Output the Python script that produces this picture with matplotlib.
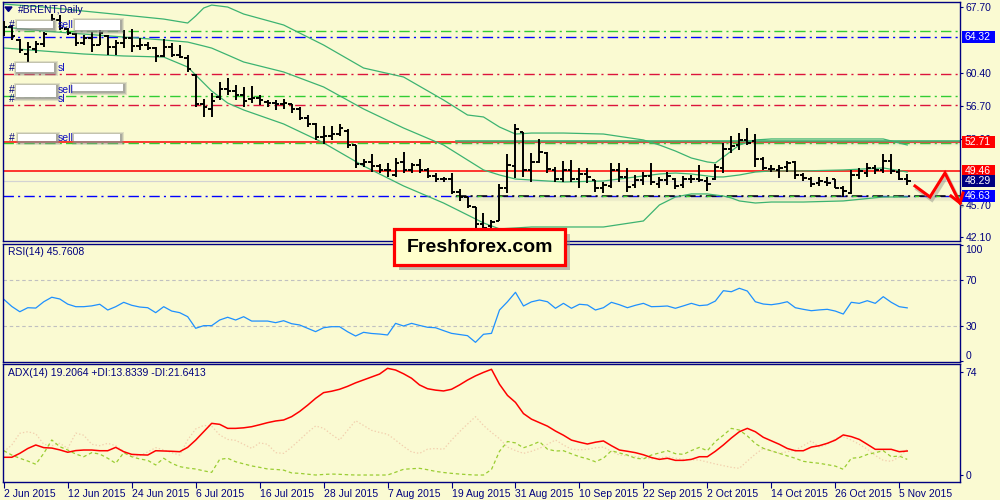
import numpy as np
import matplotlib
matplotlib.use("Agg")
import matplotlib.pyplot as plt
from matplotlib.patches import Rectangle, Polygon
from matplotlib.transforms import blended_transform_factory

plt.rcParams['font.family'] = ['Liberation Sans', 'DejaVu Sans']
plt.rcParams['lines.scale_dashes'] = False

BG = '#FAFAD2'
NAVY = '#000080'
FS = 7.5

# ---- daily OHLC, #BRENT 2 Jun - 6 Nov 2015 ----
opens = [64.9, 65.5, 64.0, 62.5, 63.0, 63.6, 65.6, 66.3, 65.3, 64.7,
         63.7, 64.3, 63.5, 64.5, 63.3, 63.7, 64.3, 63.4, 63.5, 63.1,
         62.2, 63.3, 62.4, 62.0, 60.1, 56.9, 56.4, 57.7, 58.6, 58.3,
         57.9, 57.5, 57.6, 57.1, 57.0, 56.9, 56.9, 56.3, 55.4, 54.7,
         53.2, 53.3, 53.6, 53.9, 52.3, 50.2, 50.4, 50.0, 49.6, 49.0,
         50.4, 49.6, 50.1, 49.5, 48.9, 48.5, 48.5, 47.1, 46.6, 45.4,
         43.5, 43.3, 43.9, 47.6, 50.0, 53.8, 49.5, 50.5, 51.5, 49.6,
         48.6, 49.5, 48.6, 49.1, 48.4, 47.6, 47.8, 49.6, 48.8, 47.9,
         48.4, 48.9, 48.0, 48.4, 48.5, 47.9, 48.6, 48.5, 48.3, 48.6,
         49.8, 51.9, 52.3, 52.9, 52.8, 50.8, 49.7, 49.6, 49.9, 50.5,
         49.0, 48.5, 48.1, 48.2, 48.5, 47.5, 47.0, 49.0, 49.2, 49.8,
         49.6, 50.6, 49.3, 48.6]
highs = [66.2, 65.7, 64.1, 63.8, 63.9, 64.9, 66.9, 66.8, 65.4, 64.8,
         64.6, 64.9, 65.1, 64.6, 64.0, 65.1, 65.3, 64.2, 63.8, 63.2,
         64.1, 63.7, 63.5, 62.4, 60.2, 57.5, 58.1, 59.4, 59.8, 59.0,
         58.8, 58.9, 57.9, 57.4, 57.4, 57.5, 56.9, 56.6, 55.7, 54.8,
         54.5, 54.5, 54.7, 54.1, 52.3, 50.8, 51.3, 50.2, 50.3, 50.9,
         51.6, 50.3, 50.8, 49.8, 49.2, 48.8, 49.2, 47.4, 46.6, 45.4,
         44.8, 44.0, 48.0, 51.3, 54.7, 53.8, 51.4, 53.0, 51.6, 49.9,
         50.6, 50.7, 49.8, 49.8, 48.4, 48.2, 50.3, 50.3, 49.8, 49.0,
         49.3, 50.3, 48.8, 49.3, 48.7, 48.9, 49.0, 50.1, 48.8, 50.2,
         52.6, 53.3, 53.7, 54.2, 53.6, 51.0, 50.1, 50.1, 50.6, 50.6,
         49.2, 48.8, 48.8, 48.8, 48.5, 47.8, 49.6, 49.8, 50.3, 50.1,
         51.3, 51.3, 49.7, 49.1]
lows = [64.5, 64.0, 62.6, 61.6, 62.6, 63.2, 65.5, 65.1, 64.6, 63.4,
        63.5, 62.7, 63.5, 62.4, 62.4, 63.1, 62.7, 62.9, 62.9, 61.6,
        62.1, 62.1, 62.0, 60.5, 56.6, 55.5, 55.5, 57.4, 57.9, 57.4,
        56.6, 57.0, 56.8, 56.6, 56.2, 56.4, 55.9, 55.1, 54.3, 52.9,
        52.5, 52.9, 53.3, 52.0, 49.8, 49.9, 49.3, 49.2, 48.8, 48.8,
        49.2, 49.2, 49.2, 48.7, 48.2, 48.2, 46.9, 46.1, 45.3, 42.9,
        42.3, 42.5, 43.9, 47.0, 48.7, 48.8, 48.2, 50.3, 49.2, 48.2,
        48.2, 48.2, 47.5, 48.1, 47.1, 47.0, 47.5, 48.2, 47.1, 47.5,
        47.9, 47.9, 47.5, 47.9, 47.4, 47.5, 48.1, 48.2, 47.2, 48.4,
        49.2, 51.4, 51.8, 52.3, 49.9, 49.5, 49.3, 48.7, 49.3, 48.6,
        48.3, 47.7, 47.8, 47.8, 47.5, 46.5, 46.9, 48.6, 48.8, 49.1,
        49.2, 49.1, 48.4, 47.9]
closes = [65.5, 64.5, 62.9, 63.2, 63.6, 64.7, 66.4, 65.4, 64.8, 63.7,
          64.3, 63.5, 64.8, 63.3, 63.7, 64.3, 63.4, 63.5, 63.1, 62.2,
          63.3, 62.4, 62.1, 60.8, 56.9, 56.6, 57.2, 58.6, 58.3, 57.9,
          57.2, 57.6, 57.3, 57.0, 56.9, 57.0, 56.3, 55.4, 54.7, 53.2,
          53.3, 53.6, 54.2, 52.3, 50.2, 50.4, 50.0, 49.6, 49.5, 50.3,
          49.6, 50.1, 49.5, 48.9, 48.5, 48.5, 47.1, 46.6, 45.5, 43.5,
          43.1, 43.8, 47.6, 50.1, 54.1, 49.6, 50.5, 51.6, 49.7, 48.6,
          49.5, 48.6, 49.1, 48.8, 47.6, 47.9, 49.6, 48.8, 47.7, 48.4,
          48.9, 48.2, 48.4, 48.9, 47.8, 48.6, 48.5, 48.4, 48.0, 49.9,
          51.9, 52.2, 52.9, 52.6, 50.8, 49.8, 49.7, 49.8, 50.3, 49.0,
          48.7, 48.0, 48.3, 48.1, 47.6, 47.2, 49.0, 49.4, 49.8, 49.6,
          50.6, 49.4, 48.6, 48.3]

# Bollinger bands, sampled at these bars
bb_idx = [0, 5, 10, 15, 20, 23, 24, 25, 26, 28, 30, 35, 40, 45, 50, 55, 58,
          60, 62, 64, 66, 70, 75, 80, 82, 84, 86, 88, 89, 90, 91, 92, 94, 96,
          100, 105, 110, 113]
bb_upper = [68.03, 67.70, 67.25, 66.81, 66.36, 65.92, 66.70, 67.59, 67.92,
            67.70, 66.92, 65.70, 63.47, 60.91, 59.91, 57.35, 55.68, 55.46,
            54.34, 53.56, 53.67, 53.67, 53.56, 52.90, 52.34, 51.67, 50.89,
            50.45, 50.34, 51.00, 51.67, 52.34, 52.90, 53.01, 53.01, 53.01,
            53.01, 52.34]
bb_mid = [65.47, 65.03, 64.69, 64.36, 64.03, 63.80, 63.58, 63.36, 63.13,
          62.36, 61.58, 60.47, 58.80, 56.35, 54.23, 52.34, 50.67, 49.56,
          49.00, 48.55, 48.44, 48.22, 48.33, 48.89, 49.11, 49.22, 49.11,
          48.89, 48.78, 48.78, 48.89, 49.00, 49.33, 49.45, 49.45, 49.56,
          49.78, 49.33]
bb_lower = [63.14, 62.80, 62.47, 62.25, 62.13, 61.02, 60.13, 59.24, 58.35,
            57.01, 56.24, 54.68, 52.57, 50.00, 47.78, 45.88, 44.55, 43.66,
            43.00, 43.10, 43.21, 43.21, 43.21, 43.88, 45.66, 46.55, 46.89,
            46.89, 46.77, 46.66, 46.44, 46.11, 45.88, 45.99, 45.99, 46.11,
            46.55, 46.55]

rsi = [53.2, 47.0, 42.4, 45.9, 45.6, 51.1, 55.0, 53.5, 49.0, 46.8,
       46.8, 47.5, 48.9, 43.9, 46.8, 50.6, 48.0, 46.5, 45.9, 41.6,
       46.8, 43.0, 41.6, 38.1, 28.0, 30.3, 30.3, 35.2, 37.6, 35.2,
       38.1, 34.3, 34.3, 34.3, 32.9, 34.6, 32.0, 30.9, 28.0, 25.1,
       28.5, 29.4, 29.4, 25.0, 21.3, 24.5, 23.5, 23.0, 22.2, 32.3,
       30.0, 32.3, 30.5, 28.9, 28.5, 26.0, 23.6, 22.6, 21.6, 15.8,
       22.8, 23.6, 43.9, 51.1, 59.3, 47.4, 51.0, 52.6, 51.1, 45.4,
       49.7, 45.4, 48.9, 48.3, 43.9, 45.9, 50.6, 48.5, 45.9, 48.0,
       49.7, 46.8, 47.0, 47.4, 45.4, 47.5, 49.7, 47.7, 48.3, 51.7,
       60.7, 59.8, 62.8, 60.4, 51.1, 49.1, 48.5, 49.5, 51.1, 45.9,
       44.5, 43.3, 44.0, 44.5, 43.0, 40.4, 50.6, 49.7, 52.0, 49.7,
       55.5, 50.6, 46.8, 45.76]

adx = [12.7, 12.7, 15.5, 19.0, 21.5, 19.6, 19.3, 18.0, 16.3, 17.5,
       17.9, 17.9, 17.4, 17.4, 19.8, 16.7, 14.8, 14.5, 14.3, 17.4,
       17.2, 17.0, 16.7, 19.8, 25.0, 31.0, 37.0, 36.3, 33.4, 33.4,
       33.8, 34.6, 36.0, 37.5, 38.7, 39.4, 41.8, 45.5, 50.0, 54.9,
       59.0, 60.0, 61.4, 63.5, 66.0, 68.1, 70.2, 72.3, 76.4, 75.2,
       72.5, 69.3, 64.5, 61.8, 60.8, 60.2, 61.4, 64.5, 68.0, 71.0,
       73.5, 75.7, 65.0, 57.0, 52.0, 44.0, 40.0, 37.5, 35.0, 31.5,
       28.5, 25.0, 23.5, 22.2, 23.5, 24.4, 21.0, 17.9, 17.0, 16.0,
       14.5, 12.5, 11.2, 12.0, 10.5, 10.5, 11.2, 13.1, 13.1, 17.0,
       21.5, 26.5, 31.0, 33.4, 31.0, 27.0, 24.5, 22.0, 19.0, 17.4,
       17.4, 20.0, 21.0, 22.7, 25.0, 28.7, 27.5, 25.5, 22.0, 18.4,
       18.4, 18.4, 16.7, 17.2]
plus_di = [17.4, 14.3, 12.0, 10.0, 7.7, 15.5, 25.1, 20.3, 17.9, 15.0,
           13.1, 16.0, 15.0, 12.0, 8.4, 16.0, 13.1, 11.5, 10.5, 7.2,
           12.0, 8.4, 6.0, 5.0, 4.3, 3.0, 1.9, 11.2, 12.0, 9.5,
           8.0, 6.5, 5.5, 4.3, 4.0, 3.5, 1.5, 1.2, 0.6, 0.0,
           0.4, 0.7, 0.5, 0.2, 0.0, 0.0, 0.0, 0.0, 0.0, 2.0,
           4.1, 4.5, 4.8, 3.8, 2.6, 1.8, 1.2, 0.7, 0.3, 0.0,
           0.0, 4.0, 17.0, 24.0, 23.0, 19.5, 21.5, 23.9, 18.5, 17.2,
           17.4, 15.2, 13.1, 11.6, 9.5, 12.0, 17.4, 15.8, 14.3, 12.0,
           11.5, 14.3, 15.8, 17.4, 15.3, 14.8, 17.5, 19.8, 17.4, 24.0,
           28.5, 33.4, 32.2, 28.0, 22.5, 19.1, 17.3, 15.5, 13.7, 12.0,
           9.8, 9.0, 8.4, 7.4, 6.4, 4.1, 12.0, 12.5, 14.7, 16.0,
           17.4, 13.1, 13.6, 11.2]
minus_di = [16.7, 21.5, 29.9, 31.0, 29.5, 22.0, 21.0, 22.7, 19.1, 30.0,
            28.5, 22.0, 21.0, 22.7, 21.0, 17.0, 13.1, 14.0, 16.5, 19.6,
            18.0, 16.0, 14.3, 25.1, 33.0, 35.5, 35.0, 28.7, 25.5, 24.8,
            22.0, 19.1, 23.0, 22.0, 16.0, 15.5, 20.0, 25.1, 30.5, 35.1,
            33.5, 29.0, 25.1, 32.0, 38.9, 35.5, 32.0, 30.5, 29.2, 25.0,
            20.5, 16.5, 15.5, 18.5, 19.0, 18.4, 25.0, 31.0, 36.5, 41.8,
            35.5, 30.5, 26.0, 20.0, 17.5, 15.5, 17.0, 19.1, 22.0, 25.1,
            21.5, 18.5, 18.0, 18.4, 19.5, 20.0, 17.0, 14.3, 13.8, 13.1,
            12.3, 11.5, 12.3, 13.1, 12.0, 11.2, 11.0, 10.7, 9.3, 7.9,
            6.7, 5.5, 4.8, 10.0, 15.0, 19.1, 17.3, 15.5, 16.7, 17.9,
            21.0, 24.4, 20.0, 22.0, 26.0, 27.4, 25.1, 22.0, 18.5, 14.0,
            10.5, 9.8, 12.9, 18.4]

date_idx = [0, 8, 16, 24, 32, 40, 48, 56, 64, 72, 80, 88, 96, 104, 112]
date_labels = ["2 Jun 2015", "12 Jun 2015", "24 Jun 2015", "6 Jul 2015",
               "16 Jul 2015", "28 Jul 2015", "7 Aug 2015", "19 Aug 2015",
               "31 Aug 2015", "10 Sep 2015", "22 Sep 2015", "2 Oct 2015",
               "14 Oct 2015", "26 Oct 2015", "5 Nov 2015"]

price_ticks = [67.70, 60.40, 56.70, 53.00, 45.70, 42.10]
# horizontal order / level lines: price, colour, solid?
level_prices = [65.03, 64.32, 60.24, 57.76, 56.76, 52.71, 52.55, 49.46, 48.29, 46.63]
level_colors = ['#32CD32', '#0000FF', '#DC143C', '#32CD32', '#DC143C',
                '#FF0000', '#32CD32', '#FF0000', '#D3D3D3', '#0000FF']
level_solid = [False, False, False, False, False, True, False, True, True, False]
# price boxes on the right scale
box_prices = [64.32, 52.71, 49.46, 48.29, 46.63]
box_colors = ['#0000FF', '#FF0000', '#FF0000', '#000080', '#0000FF']

DASHDOT = (7.5, 3, 1.5, 3)
XMAX = 119.6

fig = plt.figure(figsize=(10, 5), dpi=100, facecolor=BG)
ax_p = fig.add_axes([0.003, 0.518, 0.957, 0.478])
ax_r = fig.add_axes([0.003, 0.276, 0.957, 0.236])
ax_a = fig.add_axes([0.003, 0.036, 0.957, 0.236])


def style(ax):
    ax.set_facecolor(BG)
    for s in ax.spines.values():
        s.set_color(NAVY)
        s.set_linewidth(1.0)
    ax.yaxis.tick_right()
    ax.tick_params(axis='y', colors=NAVY, labelsize=FS, length=2.5,
                   width=0.8, pad=1.5, labelcolor=NAVY)
    ax.set_xlim(-0.1, XMAX)


for ax in (ax_p, ax_r, ax_a):
    style(ax)
ax_p.set_xticks([])
ax_r.set_xticks([])

# ---------------- price panel ----------------
ax_p.set_ylim(41.65, 68.26)
ax_p.set_yticks(price_ticks)
ax_p.set_yticklabels(['%.2f' % v for v in price_ticks])

for p, c, solid in zip(level_prices, level_colors, level_solid):
    if solid:
        ax_p.axhline(p, color=c, lw=1.1 if c != '#D3D3D3' else 0.9, zorder=1)
    else:
        ax_p.axhline(p, color=c, lw=1.0, dashes=DASHDOT, zorder=1)

# drawn objects starting mid-chart, with soft shadow
obj_start = 56.5
for k in range(1, 7):
    for base in (52.78, 46.63):
        ax_p.plot([obj_start, XMAX], [base - k * 0.09] * 2, color='#808080',
                  alpha=0.10 * (7 - k) / 6, lw=1.2, zorder=1)
ax_p.plot([obj_start, XMAX], [52.78, 52.78], color='#3CB371', lw=1.2, zorder=2)
ax_p.plot([obj_start, XMAX], [46.63, 46.63], color='black', lw=1.1,
          dashes=DASHDOT, zorder=2)
ax_p.plot([obj_start, XMAX], [46.63, 46.63], color='#32CD32', lw=1.0,
          dashes=(3, 12), zorder=2)

ax_p.plot(bb_idx, bb_upper, color='#3CB371', lw=0.9, zorder=2)
ax_p.plot(bb_idx, bb_mid, color='#3CB371', lw=0.9, zorder=2)
ax_p.plot(bb_idx, bb_lower, color='#3CB371', lw=0.9, zorder=2)

idx = np.arange(len(closes))
ax_p.vlines(idx, lows, highs, color='black', lw=1.4, zorder=3)
ax_p.hlines(opens, idx - 0.42, idx, color='black', lw=1.4, zorder=3)
ax_p.hlines(closes, idx, idx + 0.42, color='black', lw=1.4, zorder=3)

tr = blended_transform_factory(ax_p.transAxes, ax_p.transData)
for p, c in zip(box_prices, box_colors):
    ax_p.add_patch(Rectangle((1.0021, p - 0.66), 0.0345, 1.32, transform=tr,
                             facecolor=c, edgecolor='none', clip_on=False, zorder=5))
    ax_p.text(1.0052, p, '%.2f' % p, transform=tr, color='white', fontsize=FS,
              va='center', ha='left', clip_on=False, zorder=6)

# ---------------- RSI panel ----------------
ax_r.set_ylim(-1.3, 101.3)
for lv in (70, 30):
    ax_r.axhline(lv, color='#C0C0C0', lw=0.8, dashes=(2.5, 2))
ax_r.plot(idx, rsi, color='#1E90FF', lw=0.9)
ax_r.set_yticks([100, 70, 30, 0])
ax_r.set_yticklabels(['100', '70', '30', '0'])
tl = ax_r.get_yticklabels()
tl[0].set_va('top')
tl[3].set_va('bottom')

# ---------------- ADX panel ----------------
ax_a.set_ylim(-5.0, 79.5)
ax_a.plot(idx, minus_di, color='#F2CFAE', lw=0.9, dashes=(1, 1.5))
ax_a.plot(idx, plus_di, color='#9ACD32', lw=0.9, dashes=(2.5, 2))
ax_a.plot(idx, adx, color='#FF0000', lw=1.1)
ax_a.set_yticks([74, 0])
ax_a.set_yticklabels(['74', '0'])
ax_a.set_xticks(date_idx)
ax_a.set_xticklabels(date_labels, ha='left')
ax_a.tick_params(axis='x', colors=NAVY, labelsize=FS, length=4, width=0.8,
                 pad=1, direction='out', labelcolor=NAVY)

# ---------------- overlay in pixel coordinates ----------------
ov = fig.add_axes([0, 0, 1, 1], zorder=20)
ov.set_xlim(0, 1000)
ov.set_ylim(500, 0)
ov.axis('off')
ov.patch.set_alpha(0)

ov.add_patch(Polygon([(5, 7), (12, 7), (8.5, 11.5)], closed=True, color=NAVY))
ov.text(18, 10, '#BRENT,Daily', color=NAVY, fontsize=FS, va='center')
ov.text(8, 252, 'RSI(14) 45.7608', color=NAVY, fontsize=FS, va='center')
ov.text(8, 373, 'ADX(14) 19.2064 +DI:13.8339 -DI:21.6413', color=NAVY,
        fontsize=FS, va='center')


def white_box(x0, y0, x1, y1):
    # blurred grey shadow, then the white cover
    for g, a in ((3, 0.25), (2, 0.35), (1, 0.5)):
        ov.add_patch(Rectangle((x0 + 1 - g, y0 + 1 - g), x1 - x0 + 2 * g,
                               y1 - y0 + 2 * g, facecolor='#909090',
                               edgecolor='none', alpha=a))
    ov.add_patch(Rectangle((x0, y0), x1 - x0, y1 - y0,
                           facecolor='white', edgecolor='none'))


for y, word in [(25, 'sell'), (68, 'sl'), (99, 'sl'), (90, 'sell'), (138, 'sell')]:
    ov.text(9, y, '#', color=NAVY, fontsize=FS, va='center')
    ov.text(58, y, word, color='#1010C0', fontsize=FS, va='center')
white_box(17, 21, 53, 28)
white_box(75, 20, 120, 30)
white_box(16, 63, 54, 72)
white_box(16, 85, 56, 97)
white_box(72, 84, 123, 91)
white_box(18, 134, 56, 141)
white_box(74, 134, 120, 141)

# Freshforex badge
ov.add_patch(Rectangle((399, 234), 171, 36, facecolor='#8A8A8A',
                       edgecolor='none', alpha=0.55))
ov.add_patch(Rectangle((394, 229), 171, 36, facecolor='#FFFFCC',
                       edgecolor='#FF0000', lw=2.3))
ov.text(480, 247.5, 'Freshforex.com', fontsize=14, fontweight='bold',
        color='black', ha='center', va='center')

# hand-drawn forecast arrow
arr_x = [915, 930, 945, 960]
arr_y = [186, 197, 173, 203]
barb_x = [951, 960, 963]
barb_y = [196, 203, 193]
ov.plot([v + 2 for v in arr_x], [v + 3 for v in arr_y], color='#707070',
        alpha=0.35, lw=2.6, solid_joinstyle='miter')
ov.plot(arr_x, arr_y, color='#FF0000', lw=2.2, solid_joinstyle='miter')
ov.plot(barb_x, barb_y, color='#FF0000', lw=2.2, solid_joinstyle='miter')

fig.savefig('out.png', dpi=100, facecolor=BG)
